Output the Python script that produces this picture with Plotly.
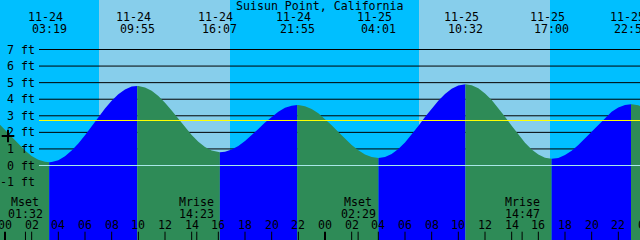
import plotly.graph_objects as go

# ---------------- data ----------------
title_text = "Suisun Point, California"

tide_hours = [-0.5, 0.0, 0.5, 1.0, 1.5, 2.0, 2.5, 3.0, 3.317,
              3.5, 4.0, 4.5, 5.0, 5.5, 6.0, 6.5, 7.0, 7.5, 8.0, 8.5, 9.0, 9.5, 9.917,
              10.0, 10.5, 11.0, 11.5, 12.0, 12.5, 13.0, 13.5, 14.0, 14.5, 15.0, 15.5, 16.0, 16.117,
              16.5, 17.0, 17.5, 18.0, 18.5, 19.0, 19.5, 20.0, 20.5, 21.0, 21.5, 21.917,
              22.0, 22.5, 23.0, 23.5, 24.0, 24.5, 25.0, 25.5, 26.0, 26.5, 27.0, 27.5, 28.0, 28.017,
              28.5, 29.0, 29.5, 30.0, 30.5, 31.0, 31.5, 32.0, 32.5, 33.0, 33.5, 34.0, 34.5, 34.533,
              35.0, 35.5, 36.0, 36.5, 37.0, 37.5, 38.0, 38.5, 39.0, 39.5, 40.0, 40.5, 41.0,
              41.5, 42.0, 42.5, 43.0, 43.5, 44.0, 44.5, 45.0, 45.5, 46.0, 46.5, 46.95,
              47.0, 47.5, 48.0]
tide_ft = [2.56, 2.14, 1.70, 1.28, 0.90, 0.58, 0.35, 0.22, 0.20,
           0.21, 0.32, 0.56, 0.90, 1.33, 1.83, 2.37, 2.92, 3.44, 3.91, 4.30, 4.58, 4.76, 4.80,
           4.80, 4.71, 4.51, 4.19, 3.79, 3.32, 2.82, 2.32, 1.84, 1.44, 1.11, 0.90, 0.80, 0.80,
           0.83, 0.96, 1.18, 1.48, 1.83, 2.21, 2.59, 2.95, 3.25, 3.48, 3.61, 3.65,
           3.65, 3.58, 3.41, 3.15, 2.81, 2.43, 2.02, 1.62, 1.24, 0.92, 0.66, 0.51, 0.45, 0.45,
           0.51, 0.70, 1.00, 1.39, 1.86, 2.38, 2.92, 3.44, 3.91, 4.32, 4.63, 4.83, 4.90, 4.90,
           4.84, 4.66, 4.35, 3.95, 3.47, 2.94, 2.40, 1.87, 1.38, 0.97, 0.66, 0.47, 0.40,
           0.46, 0.63, 0.89, 1.24, 1.64, 2.07, 2.50, 2.90, 3.24, 3.50, 3.65, 3.70,
           3.70, 3.63, 3.46]

extreme_hours = [3.317, 9.917, 16.117, 21.917, 28.017, 34.533, 41.0, 46.95]
extreme_kind = ["Low", "High", "Low", "High", "Low", "High", "Low", "High"]
extreme_date = ["11-24", "11-24", "11-24", "11-24", "11-25", "11-25", "11-25", "11-25"]
extreme_time = ["03:19", "09:55", "16:07", "21:55", "04:01", "10:32", "17:00", "22:57"]

moon_hours = [1.533, 14.383, 26.483, 38.783]
moon_kind = ["Mset", "Mrise", "Mset", "Mrise"]
moon_time = ["01:32", "14:23", "02:29", "14:47"]

sunrise_hours = [7.05, 31.05]
sunset_hours = [16.875, 40.875]

level_ft = [-1, 0, 1, 2, 3, 4, 5, 6, 7]
level_labels = ["-1 ft", "0 ft", "1 ft", "2 ft", "3 ft", "4 ft", "5 ft", "6 ft", "7 ft"]
grid_ft = [1, 2, 3, 4, 5, 6, 7]
datum_ft = 0
mean_level_ft = 2.716

hour_ticks = list(range(0, 50, 2))
hour_tick_labels = ["%02d" % (h % 24) for h in hour_ticks]
midnight_hours = [0, 24, 48]

marker_hour = [0.225]
marker_ft = [1.78]

# ---------------- layout constants ----------------
W, H = 640, 240
PX_PER_HR = W / 48.0
X_ORIGIN_PX = 5.0
PX_PER_FT = 16.571
ZERO_PX = 165.5
x_range = [-X_ORIGIN_PX / PX_PER_HR, (W - X_ORIGIN_PX) / PX_PER_HR]
y_range = [-(H - ZERO_PX) / PX_PER_FT, ZERO_PX / PX_PER_FT]

NIGHT = "#00BFFF"
DAY = "#87CEEB"
RISE = "#0000FF"
FALL = "#2E8B57"
FONT = dict(family="DejaVu Sans Mono", size=11.6, color="black")


def paper_y(px):
    return 1 - px / H


def paper_x(hour):
    return (hour - x_range[0]) / (x_range[1] - x_range[0])


fig = go.Figure()

# tide area split into rising (blue) and falling (green) segments
bounds = [tide_hours[0]] + extreme_hours + [tide_hours[-1]]
kinds = ["High"] + extreme_kind  # kind of the extreme that starts each interval
for i in range(len(bounds) - 1):
    a, b = bounds[i], bounds[i + 1]
    color = FALL if kinds[i] == "High" else RISE
    xs = [h for h in tide_hours if a <= h <= b]
    ys = [v for h, v in zip(tide_hours, tide_ft) if a <= h <= b]
    fig.add_trace(go.Scatter(x=xs, y=[y_range[0]] * len(xs), mode="lines",
                             line=dict(width=0), hoverinfo="skip", showlegend=False))
    fig.add_trace(go.Scatter(x=xs, y=ys, mode="lines", fill="tonexty", fillcolor=color,
                             line=dict(width=0), hoverinfo="skip", showlegend=False))

# "+" marker
fig.add_trace(go.Scatter(x=marker_hour, y=marker_ft, mode="markers",
                         marker=dict(symbol="cross-thin", size=9, line=dict(width=2, color="black")),
                         hoverinfo="skip", showlegend=False, cliponaxis=False))

shapes = []
# daylight bands
for r, s in zip(sunrise_hours, sunset_hours):
    shapes.append(dict(type="rect", xref="x", yref="paper", x0=r, x1=s, y0=0, y1=1,
                       fillcolor=DAY, line=dict(width=0), layer="below"))
# black grid lines (behind tide)
LINE_X0 = 39 / W
for v in grid_ft:
    shapes.append(dict(type="line", xref="paper", yref="y", x0=LINE_X0, x1=1, y0=v, y1=v,
                       line=dict(color="black", width=1), layer="below"))
# datum and mean lines (in front)
shapes.append(dict(type="line", xref="paper", yref="y", x0=LINE_X0, x1=1, y0=datum_ft, y1=datum_ft,
                   line=dict(color="#A8E8E8", width=1), layer="above"))
shapes.append(dict(type="line", xref="paper", yref="y", x0=LINE_X0, x1=1, y0=mean_level_ft,
                   y1=mean_level_ft, line=dict(color="#FFFF00", width=1), layer="above"))
# ticks
TICK_TOP = 8.3 / H
for h in hour_ticks:
    w = 2 if h in midnight_hours else 1
    shapes.append(dict(type="line", xref="x", yref="paper", x0=h, x1=h, y0=0, y1=TICK_TOP,
                       line=dict(color="black", width=w), layer="above"))
for h in moon_hours:
    shapes.append(dict(type="line", xref="x", yref="paper", x0=h, x1=h, y0=0, y1=TICK_TOP,
                       line=dict(color="black", width=1), layer="above"))

annotations = []
annotations.append(dict(text=title_text, xref="paper", yref="paper", x=0.5, y=paper_y(5.7),
                        xanchor="center", yanchor="middle", showarrow=False, font=FONT))
for h, d, t in zip(extreme_hours, extreme_date, extreme_time):
    annotations.append(dict(text=d, xref="paper", yref="paper", x=paper_x(h), y=paper_y(17.2),
                            xshift=-4, xanchor="center", yanchor="middle", showarrow=False, font=FONT))
    annotations.append(dict(text=t, xref="paper", yref="paper", x=paper_x(h), y=paper_y(29.2),
                            xanchor="center", yanchor="middle", showarrow=False, font=FONT))
for h, k, t in zip(moon_hours, moon_kind, moon_time):
    annotations.append(dict(text=k, xref="paper", yref="paper", x=paper_x(h), y=paper_y(201.7),
                            xanchor="center", yanchor="middle", showarrow=False, font=FONT))
    annotations.append(dict(text=t, xref="paper", yref="paper", x=paper_x(h), y=paper_y(213.5),
                            xanchor="center", yanchor="middle", showarrow=False, font=FONT))
for h, lab in zip(hour_ticks, hour_tick_labels):
    annotations.append(dict(text=lab, xref="paper", yref="paper", x=paper_x(h), y=paper_y(225.2),
                            xanchor="center", yanchor="middle", showarrow=False, font=FONT))
for v, lab in zip(level_ft, level_labels):
    annotations.append(dict(text=lab, xref="paper", yref="y", x=37 / W, y=v,
                            xanchor="right", yanchor="middle", showarrow=False, font=FONT))

fig.update_layout(
    width=W, height=H, margin=dict(l=0, r=0, t=0, b=0),
    paper_bgcolor=NIGHT, plot_bgcolor=NIGHT,
    xaxis=dict(range=x_range, visible=False, fixedrange=True),
    yaxis=dict(range=y_range, visible=False, fixedrange=True),
    shapes=shapes, annotations=annotations, showlegend=False,
)

fig.write_html("out.html", config={"displayModeBar": False})
